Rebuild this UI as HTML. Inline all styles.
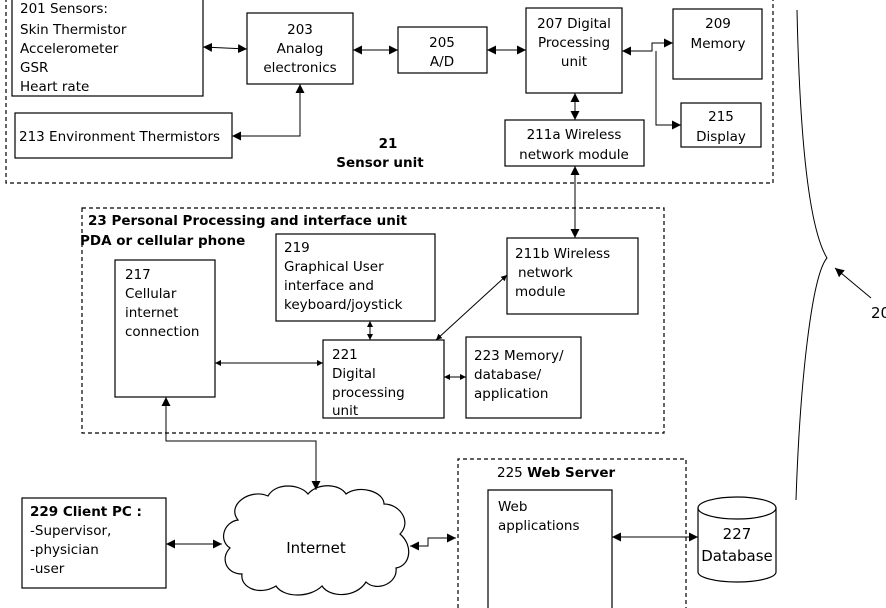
<!DOCTYPE html>
<html><head><meta charset="utf-8"><style>
html,body{margin:0;padding:0;background:#fff;}
svg{display:block;}
text{font-family:"DejaVu Sans","Liberation Sans",sans-serif;font-size:13.5px;fill:#000;}
.b{font-weight:bold;}
</style></head><body>
<svg width="886" height="608" viewBox="0 0 886 608" xmlns="http://www.w3.org/2000/svg">
<defs>
<marker id="a" viewBox="0 0 10 10" refX="10" refY="5" markerWidth="9" markerHeight="9" orient="auto-start-reverse" markerUnits="userSpaceOnUse"><path d="M0,0 L10,5 L0,10 z" fill="#000"/></marker>
<marker id="s" viewBox="0 0 10 10" refX="10" refY="5" markerWidth="6" markerHeight="6" orient="auto-start-reverse" markerUnits="userSpaceOnUse"><path d="M0,0 L10,5 L0,10 z" fill="#000"/></marker>
</defs>
<g fill="none" stroke="#000" stroke-width="1.2">
<path d="M6,-2 V183 H773 V-2" stroke-dasharray="4,3"/>
<rect x="82" y="208" width="582" height="225" stroke-dasharray="4,3"/>
<path d="M458,608 V459 H686 V608" stroke-dasharray="4,3"/>
<rect x="12" y="-2" width="191" height="98"/>
<rect x="247" y="13" width="106" height="71"/>
<rect x="398" y="27" width="89" height="46"/>
<rect x="526" y="8" width="96" height="85"/>
<rect x="673" y="9" width="89" height="70"/>
<rect x="681" y="103" width="80" height="44"/>
<rect x="505" y="120" width="139" height="46"/>
<rect x="15" y="113" width="217" height="45"/>
<rect x="115" y="260" width="100" height="137"/>
<rect x="276" y="234" width="159" height="87"/>
<rect x="507" y="238" width="131" height="76"/>
<rect x="323" y="340" width="121" height="78"/>
<rect x="466" y="337" width="115" height="81"/>
<rect x="22" y="498" width="144" height="90"/>
<path d="M488,608 V490 H612 V608"/>
<path d="M698,508 V572 A39,10 0 0 0 776,572 V508"/>
<ellipse cx="737" cy="508" rx="39" ry="11"/>
<path d="M238,520 C226,505 250,488 268,496 C276,482 300,484 308,494 C318,482 340,484 346,494 C360,484 384,492 384,504 C400,504 412,522 400,534 C414,546 410,566 396,568 C398,584 376,592 366,582 C356,598 330,598 322,586 C310,598 284,598 276,586 C260,596 240,588 242,574 C226,574 220,558 230,548 C218,540 224,522 238,520 Z"/>
</g>
<g fill="none" stroke="#000" stroke-width="1">
<line x1="203" y1="47" x2="247" y2="49" marker-start="url(#a)" marker-end="url(#a)"/>
<line x1="353" y1="50" x2="398" y2="50" marker-start="url(#a)" marker-end="url(#a)"/>
<line x1="487" y1="50" x2="526" y2="50" marker-start="url(#a)" marker-end="url(#a)"/>
<path d="M622,51 H652 V43 H673" marker-start="url(#a)" marker-end="url(#a)"/>
<path d="M656,51 V125 H681" marker-end="url(#a)"/>
<line x1="575" y1="93" x2="575" y2="120" marker-start="url(#a)" marker-end="url(#a)"/>
<path d="M300,84 V136 H232" marker-start="url(#a)" marker-end="url(#a)"/>
<line x1="575" y1="166" x2="575" y2="238" marker-start="url(#a)" marker-end="url(#a)"/>
<line x1="215" y1="363" x2="323" y2="363" marker-start="url(#s)" marker-end="url(#s)"/>
<line x1="370" y1="321" x2="370" y2="340" marker-start="url(#s)" marker-end="url(#s)"/>
<line x1="507" y1="275" x2="436" y2="340" marker-start="url(#s)" marker-end="url(#s)"/>
<line x1="444" y1="377" x2="466" y2="377" marker-start="url(#s)" marker-end="url(#s)"/>
<path d="M166,397 V441 H316 V490" marker-start="url(#a)" marker-end="url(#a)"/>
<line x1="166" y1="544" x2="222" y2="544" marker-start="url(#a)" marker-end="url(#a)"/>
<path d="M410,546 H428 V538 H456" marker-start="url(#a)" marker-end="url(#a)"/>
<line x1="612" y1="537" x2="698" y2="537" marker-start="url(#a)" marker-end="url(#a)"/>
<path d="M797,10 C800,150 810,230 827,258 C812,275 800,380 796,500"/>
<line x1="871" y1="298" x2="835" y2="268" marker-end="url(#a)"/>
</g>
<text x="20" y="13">201 Sensors:</text>
<text x="20" y="34">Skin Thermistor</text>
<text x="20" y="53">Accelerometer</text>
<text x="20" y="72">GSR</text>
<text x="20" y="91">Heart rate</text>
<text x="300" y="34" text-anchor="middle">203</text>
<text x="300" y="53" text-anchor="middle">Analog</text>
<text x="300" y="72" text-anchor="middle">electronics</text>
<text x="442" y="47" text-anchor="middle">205</text>
<text x="442" y="66" text-anchor="middle">A/D</text>
<text x="574" y="28" text-anchor="middle">207 Digital</text>
<text x="574" y="47" text-anchor="middle">Processing</text>
<text x="574" y="66" text-anchor="middle">unit</text>
<text x="718" y="28" text-anchor="middle">209</text>
<text x="718" y="48" text-anchor="middle">Memory</text>
<text x="721" y="121" text-anchor="middle">215</text>
<text x="721" y="141" text-anchor="middle">Display</text>
<text x="574" y="139" text-anchor="middle">211a Wireless</text>
<text x="574" y="159" text-anchor="middle">network module</text>
<text x="19" y="141">213 Environment Thermistors</text>
<text x="388" y="148" text-anchor="middle" class="b">21</text>
<text x="380" y="167" text-anchor="middle" class="b">Sensor unit</text>
<text x="88" y="225" class="b">23 Personal Processing and interface unit</text>
<text x="80" y="245" class="b">PDA or cellular phone</text>
<text x="284" y="252">219</text>
<text x="284" y="271">Graphical User</text>
<text x="284" y="290">interface and</text>
<text x="284" y="309">keyboard/joystick</text>
<text x="515" y="258">211b Wireless</text>
<text x="518" y="277">network</text>
<text x="515" y="296">module</text>
<text x="125" y="279">217</text>
<text x="125" y="298">Cellular</text>
<text x="125" y="317">internet</text>
<text x="125" y="336">connection</text>
<text x="332" y="359">221</text>
<text x="332" y="378">Digital</text>
<text x="332" y="397">processing</text>
<text x="332" y="415">unit</text>
<text x="474" y="360">223 Memory/</text>
<text x="474" y="379">database/</text>
<text x="474" y="398">application</text>
<text x="30" y="516" class="b">229 Client PC :</text>
<text x="30" y="535">-Supervisor,</text>
<text x="30" y="554">-physician</text>
<text x="30" y="573">-user</text>
<text x="316" y="553" text-anchor="middle" style="font-size:15px">Internet</text>
<text x="497" y="477">225 <tspan class="b">Web Server</tspan></text>
<text x="498" y="511">Web</text>
<text x="498" y="530">applications</text>
<text x="737" y="539" text-anchor="middle" style="font-size:15px">227</text>
<text x="737" y="561" text-anchor="middle" style="font-size:15px">Database</text>
<text x="871" y="318" style="font-size:15px">20</text>
</svg>
</body></html>
